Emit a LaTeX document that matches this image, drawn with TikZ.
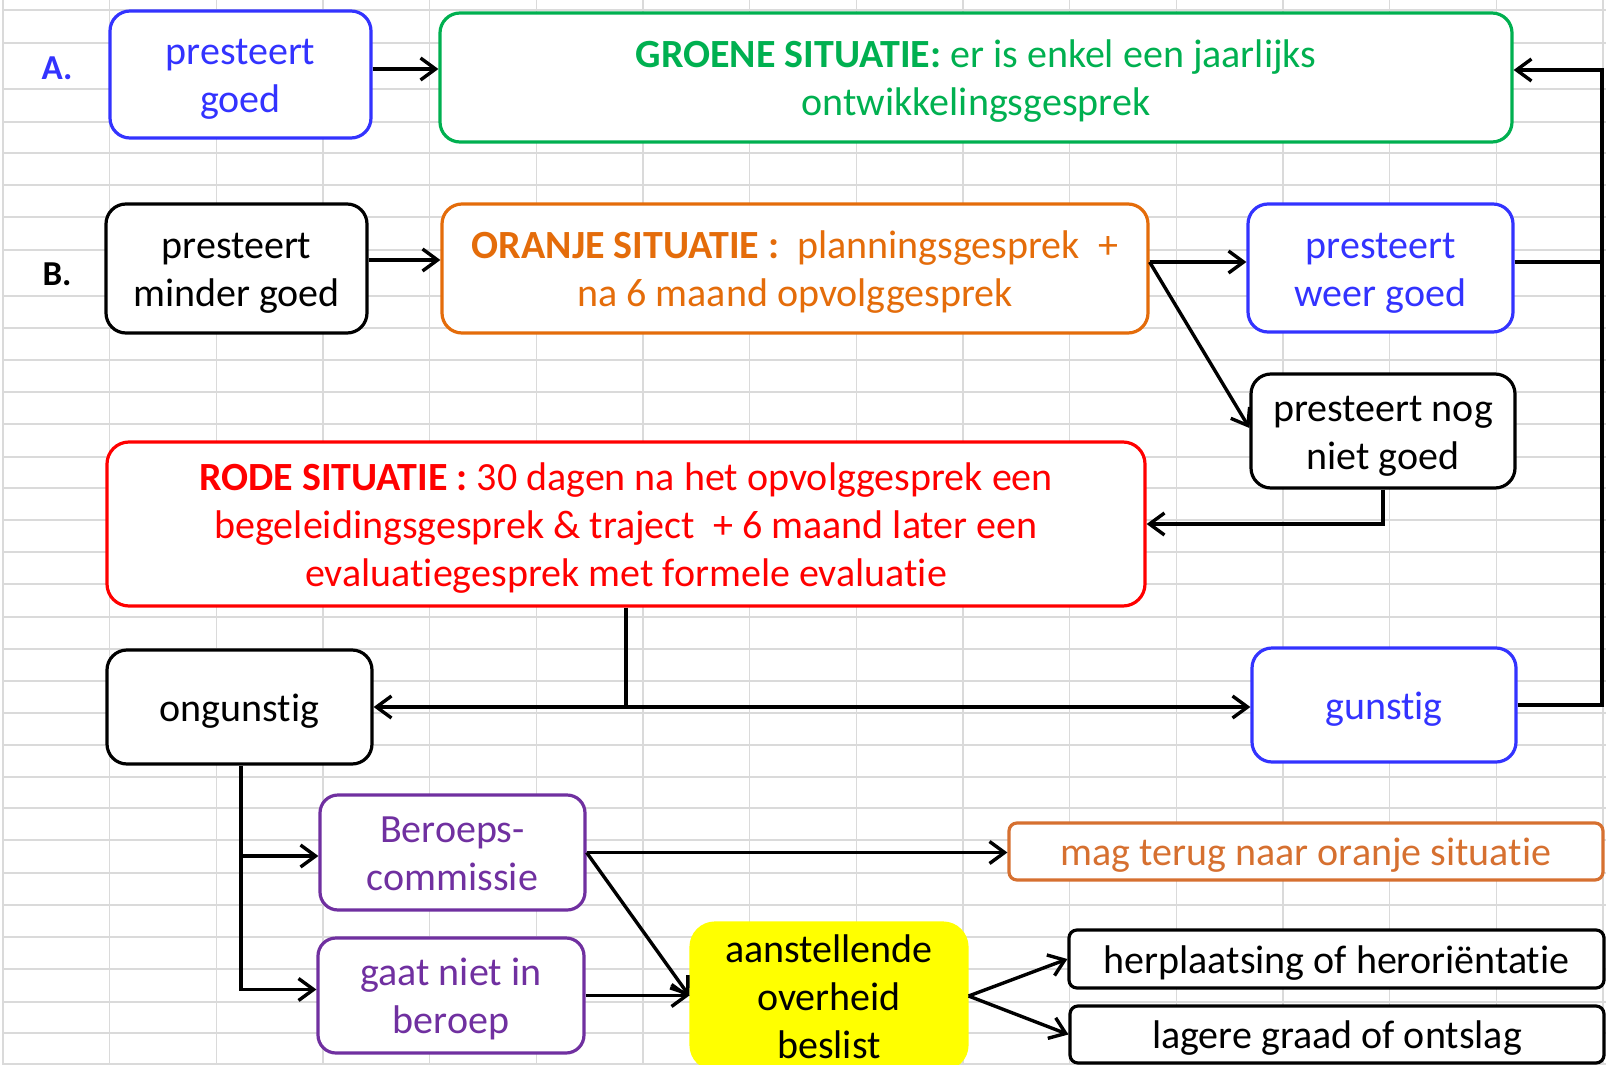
\documentclass[tikz,border=0pt]{standalone}
\usepackage{fontspec}
\setmainfont{Carlito}[Ligatures={NoCommon}]
\usetikzlibrary{arrows.meta,calc}
\definecolor{cblue}{RGB}{51,51,255}
\definecolor{cgreen}{RGB}{0,176,80}
\definecolor{corange}{RGB}{228,108,10}
\definecolor{cmag}{RGB}{214,112,48}
\definecolor{cpurple}{RGB}{112,48,160}
\definecolor{cred}{RGB}{255,0,0}
\definecolor{cyellow}{RGB}{255,255,0}
\definecolor{cgrid}{RGB}{218,218,218}
\newcommand\tx[1]{\raisebox{-2.3pt}[\height][\depth]{\begin{tabular}{@{}c@{}}#1\end{tabular}}}
\begin{document}
\begin{tikzpicture}[x=0.5pt,y=-0.5pt,
  box/.style={draw, line width=1.6pt, rounded corners=10pt, fill=white, inner sep=0pt, font=\fontsize{20}{24}\selectfont},
  flat/.style={box, rounded corners=4pt},
  lab/.style={font=\fontsize{17.5}{20}\selectfont\bfseries, inner sep=0pt},
  ln/.style={line width=1.7pt},
  arr/.style={line width=1.7pt, -{Straight Barb[length=7.5pt,width=11pt,line width=1.7pt]}},
]
\useasboundingbox (0,0) rectangle (1606,1065);
\clip (0,0) rectangle (1606,1065);
\fill[white] (0,0) rectangle (1606,1065);
% grid
\foreach \k in {0,...,15} \draw[cgrid, line width=0.6pt] ({3+106.67*\k},0) -- ({3+106.67*\k},1065);
\foreach \yy in {10,43,89,122,153,185,217,250,296,328,360,392,424,457,488,520,552,584,617,649,681,713,745,777,808,840,873,905,937,969,1002,1033,1064}
  \draw[cgrid, line width=0.6pt] (3,\yy) -- (1606,\yy);

% labels
\node[lab, text=cblue] (labA) at (57,68) {A.};
\node[lab] (labB) at (57,274) {B.};

% nodes
\node[box, draw=cblue, text=cblue, minimum width=130.5pt, minimum height=63.5pt] (A) at (240.5,74.5) {\tx{presteert\\goed}};
\node[box, draw=cgreen, text=cgreen, minimum width=536pt, minimum height=64.5pt] (green) at (976,77.5) {\tx{\textbf{GROENE SITUATIE:} er is enkel een jaarlijks\\ontwikkelingsgesprek}};
\node[box, minimum width=130.5pt, minimum height=64.5pt] (B) at (236.5,268.5) {\tx{presteert\\minder goed}};
\node[box, draw=corange, text=corange, minimum width=353pt, minimum height=64.5pt] (orange) at (795,268.5) {\tx{\textbf{ORANJE SITUATIE :}\ \ planningsgesprek\ \ +\\na 6 maand opvolggesprek}};
\node[box, draw=cblue, text=cblue, minimum width=132.5pt, minimum height=64pt] (weer) at (1380.5,268) {\tx{presteert\\weer goed}};
\node[box, minimum width=132pt, minimum height=57pt] (nog) at (1383,431) {\tx{presteert nog\\niet goed}};
\node[box, draw=cred, text=cred, rounded corners=11pt, minimum width=519pt, minimum height=82pt] (red) at (626,524) {\tx{\textbf{RODE SITUATIE :} 30 dagen na het opvolggesprek een\\begeleidingsgesprek \& traject\ \ + 6 maand later een\\evaluatiegesprek met formele evaluatie}};
\node[box, minimum width=132.5pt, minimum height=57pt] (ong) at (239.5,707) {\tx{ongunstig}};
\node[box, draw=cblue, text=cblue, minimum width=132pt, minimum height=57pt] (gun) at (1384,705) {\tx{gunstig}};
\node[box, draw=cpurple, text=cpurple, rounded corners=9pt, minimum width=132.5pt, minimum height=57.5pt] (ber) at (452.5,852.5) {\tx{Beroeps-\\commissie}};
\node[box, draw=cpurple, text=cpurple, rounded corners=9pt, minimum width=133pt, minimum height=57.5pt] (gaat) at (451,995.5) {\tx{gaat niet in\\beroep}};
\node[flat, draw=cmag, text=cmag, minimum width=297pt, minimum height=28.5pt] (mag) at (1306,851.5) {\tx{mag terug naar oranje situatie}};
\node[box, draw=cyellow, fill=cyellow, rounded corners=12pt, minimum width=138pt, minimum height=73pt] (yel) at (829,996) {\tx{aanstellende\\overheid\\beslist}};
\node[flat, minimum width=267.5pt, minimum height=29pt] (herp) at (1336.5,959) {\tx{herplaatsing of heroriëntatie}};
\node[flat, minimum width=267pt, minimum height=28.5pt] (lag) at (1337,1034.5) {\tx{lagere graad of ontslag}};

% connectors
\coordinate (a1) at ([yshift=2.75pt]A.east);
\draw[arr] (a1) -- (a1 -| green.west);
\coordinate (b1) at ([yshift=4.25pt]B.east);
\draw[arr] (b1) -- (b1 -| orange.west);
\coordinate (o1) at ([yshift=3.25pt]orange.east);
\draw[arr] (o1) -- (o1 -| weer.west);
\draw[arr] (o1) -- ([yshift=1.5pt]nog.west);
\coordinate (rail) at (1602,0);
\coordinate (g1) at ([yshift=3.75pt]green.east);
\draw[arr] (gun.east) -| (rail |- g1) -- (g1);
\coordinate (w1) at ([yshift=3pt]weer.east);
\draw[ln] (w1) -- (rail |- w1);
\draw[arr] (nog.south) |- (red.east);
\coordinate (j) at (red.south |- ong.east);
\draw[ln] (red.south) -- (j);
\draw[arr] (j) -- (ong.east);
\draw[arr] (j) -- (j -| gun.west);
\coordinate (v) at ([xshift=0.75pt]ong.south);
\coordinate (gw) at ([yshift=3pt]gaat.west);
\draw[arr] (v) |- (gw);
\coordinate (bw) at ([yshift=-1.75pt]ber.west);
\draw[arr] (v |- bw) -- (bw);
\draw[arr] (ber.east) -- (ber.east -| mag.west);
\draw[arr] (ber.east) -- (yel.west);
\draw[arr] (gaat.east) -- (gaat.east -| yel.west);
\draw[arr] (yel.east) -- (herp.west);
\draw[arr] (yel.east) -- (lag.west);
\end{tikzpicture}
\end{document}
